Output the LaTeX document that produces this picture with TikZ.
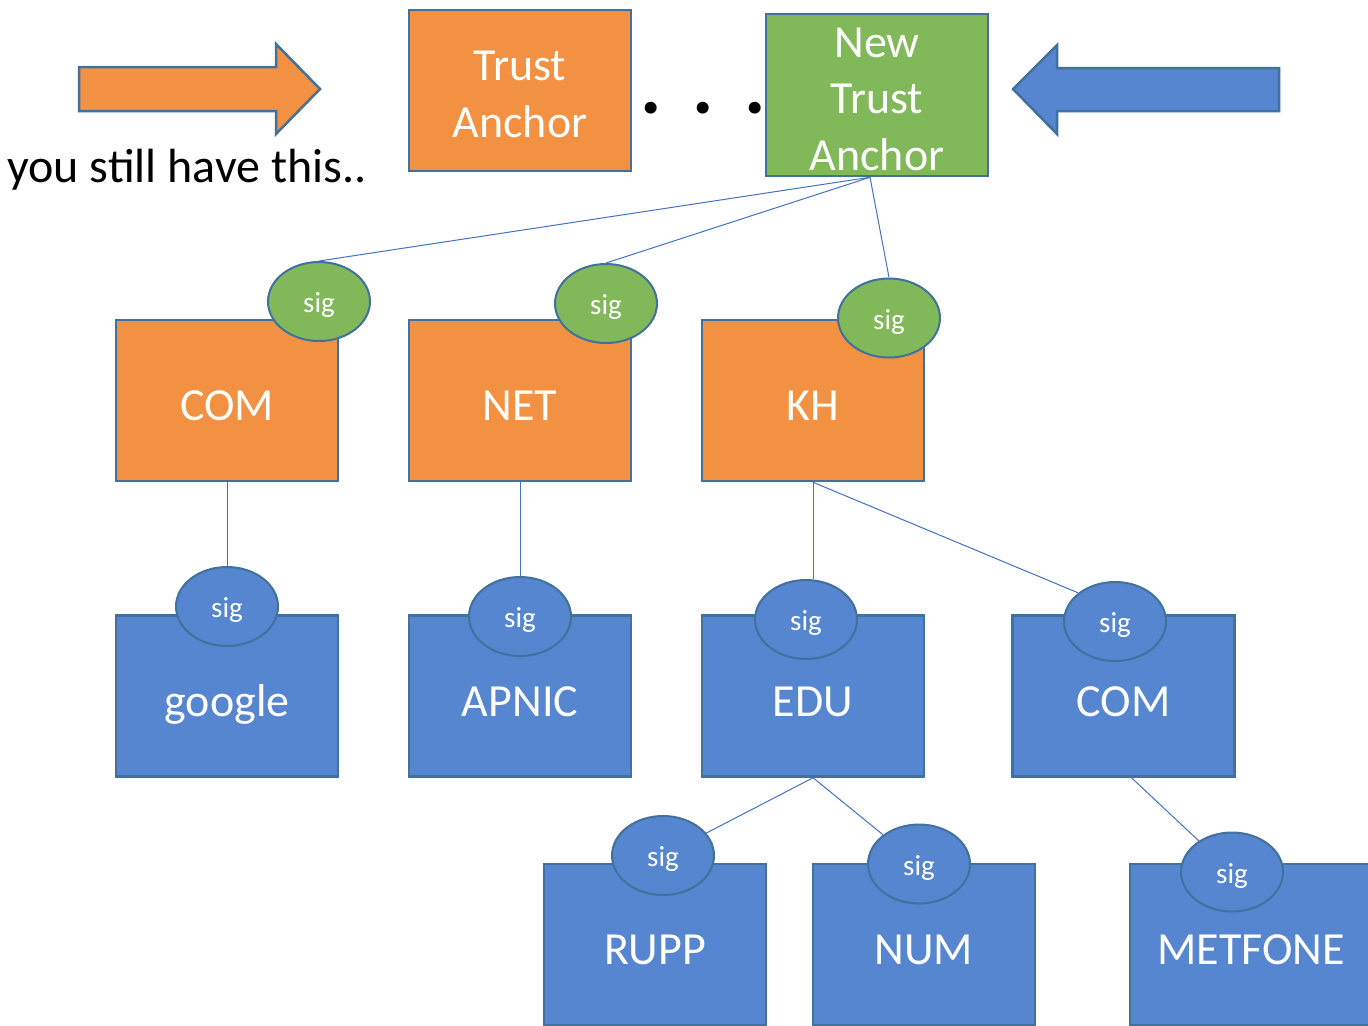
\documentclass[tikz,border=0pt]{standalone}
\usepackage{fontspec}
\setmainfont{Carlito}
\usetikzlibrary{shapes.geometric}
\definecolor{orangefill}{HTML}{F29141}
\definecolor{greenfill}{HTML}{80B85A}
\definecolor{bluefill}{HTML}{5586CF}
\definecolor{bordercol}{HTML}{41719C}
\definecolor{linecol}{HTML}{4472C4}
\tikzset{
  box/.style={draw=bordercol, line width=1.25pt, minimum width=111pt, minimum height=80.5pt,
    inner sep=0pt, text=white, font=\fontsize{23}{28}\selectfont, text height=20pt, text depth=0pt},
  orangebox/.style={box, fill=orangefill},
  bluebox/.style={box, fill=bluefill},
  sigbase/.style={ellipse, draw=bordercol, line width=1pt, minimum width=51pt, minimum height=39.5pt,
    inner sep=0pt, text=white, font=\fontsize{14.5}{16}\selectfont, text height=11pt, text depth=0pt},
  greensig/.style={sigbase, fill=greenfill},
  bluesig/.style={sigbase, fill=bluefill},
  conn/.style={draw=linecol, line width=0.5pt},
  bigarrow/.style={draw=bordercol, line width=1.25pt, line join=miter},
  bigtext/.style={text=white, font=\fontsize{23}{28.25}\selectfont, align=center, inner sep=0pt}
}
\begin{document}
\begin{tikzpicture}[x=0.5pt, y=-0.5pt]
\clip (0,0) rectangle (1368,1025);
\fill[white] (0,0) rectangle (1368,1025);

% big arrows
\draw[bigarrow, fill=orangefill] (79,67) -- (276,67) -- (276,44) -- (320,89) -- (276,134) -- (276,111) -- (79,111) -- cycle;
\draw[bigarrow, fill=bluefill] (1279,68) -- (1057,68) -- (1057,45) -- (1013,89) -- (1057,134) -- (1057,111) -- (1279,111) -- cycle;

\node[anchor=base west, inner sep=0pt, font=\fontsize{24}{29}\selectfont] (still) at (7,182) {you still have this..};

% trust anchors
\node[orangebox] (ta) at (520,90.5) {};
\node[bigtext] (tatext) at (520,94.5) {Trust\\Anchor};
\node[box, fill=greenfill, minimum height=81pt] (nta) at (877,95) {};
\node[bigtext] (ntatext) at (877,99) {New\\Trust\\Anchor};
\node[anchor=base, inner sep=0pt, font=\fontsize{40}{40}\bfseries] (dots) at (703,113) {.\hspace{15.3pt}.\hspace{15.3pt}.};

% second row
\node[orangebox] (com) at (227,400.5) {COM};
\node[orangebox] (net) at (520,400.5) {NET};
\node[orangebox] (kh) at (813,400.5) {KH};
\node[greensig] (comsig) at (319,301.5) {sig};
\node[greensig] (netsig) at (606,303.5) {sig};
\node[greensig] (khsig) at (889,318) {sig};

% third row
\node[bluebox] (google) at (227,696) {google};
\node[bluebox] (apnic) at (520,696) {APNIC};
\node[bluebox] (edu) at (813,696) {EDU};
\node[bluebox] (comb) at (1123.5,696) {COM};
\node[bluesig] (googlesig) at (227,606.5) {sig};
\node[bluesig] (apnicsig) at (520,616.5) {sig};
\node[bluesig] (edusig) at (806,619.5) {sig};
\node[bluesig] (combsig) at (1115,621.5) {sig};

% fourth row
\node[bluebox] (rupp) at (655,944.5) {RUPP};
\node[bluebox] (num) at (924,944.5) {NUM};
\node[bluebox, minimum width=121pt] (metfone) at (1251,944.5) {METFONE};
\node[bluesig] (ruppsig) at (663,855.5) {sig};
\node[bluesig] (numsig) at (919,864) {sig};
\node[bluesig] (metfonesig) at (1232,872) {sig};

% connectors
\coordinate (ntafoot) at ([xshift=-3.5pt]nta.south);
\draw[conn] (ntafoot) -- (comsig.north);
\draw[conn] (ntafoot) -- (netsig.north);
\draw[conn] (ntafoot) -- (khsig.north);
\draw[conn] (com.south) -- (googlesig);
\draw[conn] (net.south) -- (apnicsig);
\draw[conn] (kh.south) -- (edusig.north -| kh.south);
\draw[conn] (kh.south) -- (combsig.north west);
\draw[conn] (edu.south) -- (ruppsig);
\draw[conn] (edu.south) -- (numsig);
\draw[conn] ([xshift=4pt]comb.south) -- (metfonesig);
\end{tikzpicture}
\end{document}
